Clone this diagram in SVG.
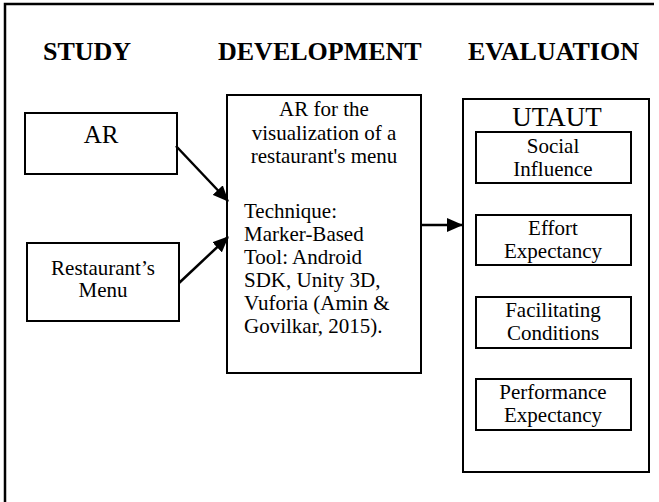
<svg xmlns="http://www.w3.org/2000/svg" width="659" height="502" viewBox="0 0 659 502">
<style>
.box{fill:#fff;stroke:#000;stroke-width:2}
.t{font-family:'Liberation Serif','Times New Roman',serif;font-size:21px;fill:#000}
.big{font-size:25px}
.ut{font-size:27px}
.c{text-anchor:middle}
.h{font-family:'Liberation Serif','Times New Roman',serif;font-size:26px;font-weight:bold;fill:#000}
.conn{stroke:#000;stroke-width:2.5;fill:none}
</style>
<defs>
<marker id="ah" markerUnits="userSpaceOnUse" markerWidth="16" markerHeight="14" refX="15" refY="7" orient="auto">
<path d="M0,0 L16,7 L0,14 Z" fill="#000"/>
</marker>
</defs>
<rect width="659" height="502" fill="#fff"/>
<g id="frame">
<path d="M5,502 L5,4 L654,4" fill="none" stroke="#000" stroke-width="2.5"/>
</g>
<g id="headings">
<text class="h" x="43" y="60">STUDY</text>
<text class="h" x="218" y="60">DEVELOPMENT</text>
<text class="h" x="468" y="60">EVALUATION</text>
</g>
<g id="node-ar">
<rect class="box" x="25" y="113" width="152" height="61"/>
<text class="t c big" x="101" y="143">AR</text>
</g>
<g id="node-menu">
<rect class="box" x="27" y="243" width="152" height="78"/>
<text class="t c" x="103" y="275">Restaurant’s</text>
<text class="t c" x="103" y="297">Menu</text>
</g>
<g id="node-dev">
<rect class="box" x="227" y="95" width="194" height="278"/>
<text class="t c" x="324" y="116">AR for the</text>
<text class="t c" x="324" y="140">visualization of a</text>
<text class="t c" x="324" y="163">restaurant's menu</text>
<text class="t" x="244" y="218">Technique:</text>
<text class="t" x="244" y="241">Marker-Based</text>
<text class="t" x="244" y="264">Tool: Android</text>
<text class="t" x="244" y="287">SDK, Unity 3D,</text>
<text class="t" x="244" y="310">Vuforia (Amin &amp;</text>
<text class="t" x="244" y="333">Govilkar, 2015).</text>
</g>
<g id="node-utaut">
<rect class="box" x="463" y="99" width="186" height="373"/>
<text class="t c ut" x="557" y="126">UTAUT</text>
</g>
<g id="node-social">
<rect class="box" x="476" y="132" width="155" height="51"/>
<text class="t c" x="553" y="153">Social</text>
<text class="t c" x="553" y="176">Influence</text>
</g>
<g id="node-effort">
<rect class="box" x="476" y="215" width="155" height="50"/>
<text class="t c" x="553" y="235">Effort</text>
<text class="t c" x="553" y="258">Expectancy</text>
</g>
<g id="node-facilitating">
<rect class="box" x="476" y="297" width="155" height="51"/>
<text class="t c" x="553" y="317">Facilitating</text>
<text class="t c" x="553" y="340">Conditions</text>
</g>
<g id="node-performance">
<rect class="box" x="476" y="379" width="155" height="51"/>
<text class="t c" x="553" y="399">Performance</text>
<text class="t c" x="553" y="422">Expectancy</text>
</g>
<g id="connectors">
<line class="conn" x1="176" y1="146" x2="228" y2="201" marker-end="url(#ah)"/>
<line class="conn" x1="179" y1="283" x2="228" y2="237" marker-end="url(#ah)"/>
<line class="conn" x1="422" y1="225" x2="462" y2="225" marker-end="url(#ah)"/>
</g>
</svg>
